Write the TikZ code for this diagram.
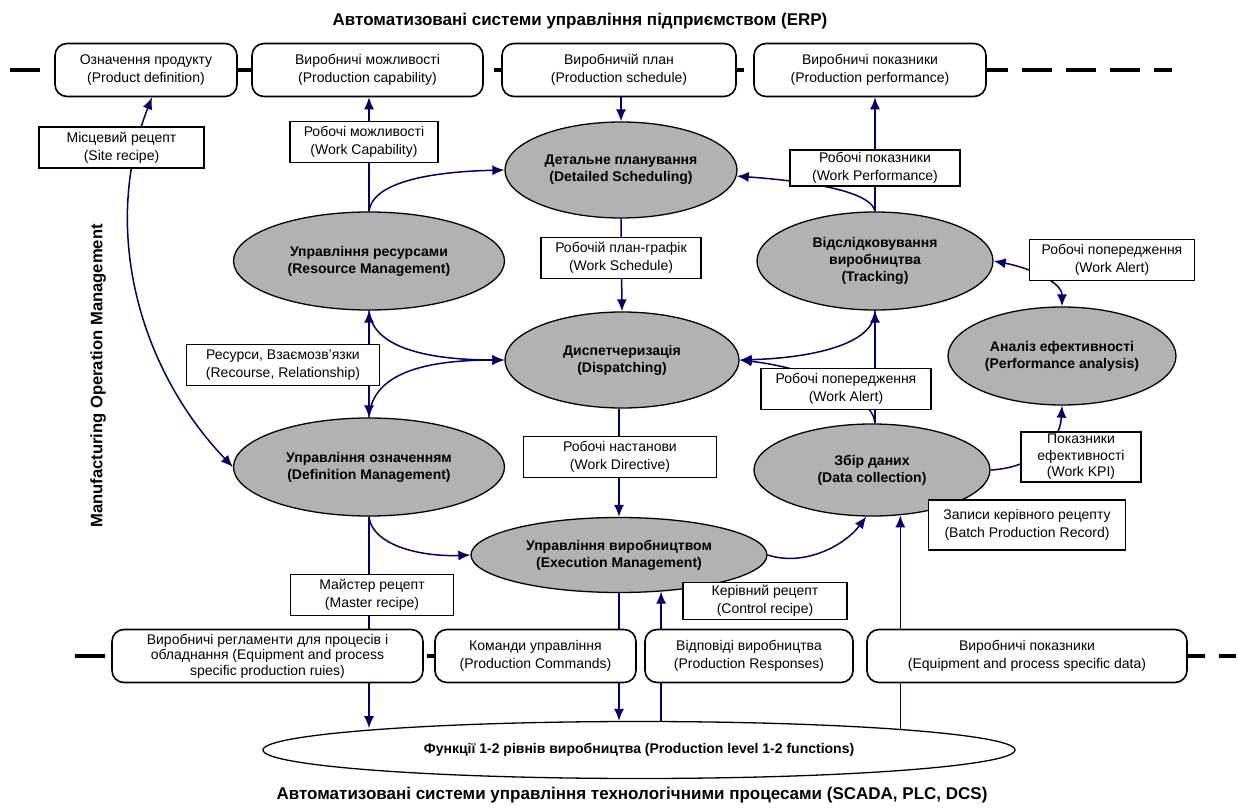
\documentclass[tikz,border=0pt]{standalone}
\usepackage{fontspec}
\setmainfont{Liberation Sans}
\usepackage{xcolor}
\usepackage{tikz}
\usetikzlibrary{arrows.meta,calc,positioning,shapes.geometric,backgrounds}
\definecolor{navyline}{RGB}{0,0,102}
\definecolor{ovalgray}{RGB}{178,178,178}

\begin{document}
\begin{tikzpicture}[x=0.5pt,y=-0.5pt,>={Latex[length=6pt,width=5pt]},
  oval/.style={ellipse,draw,line width=0.65pt,fill=ovalgray,inner sep=0pt,align=center,font={\fontsize{7}{8.5}\selectfont\bfseries}},
  sysbox/.style={draw,rounded corners=6pt,line width=0.8pt,fill=white,minimum height=26.5pt,align=center,font={\fontsize{7}{9}\selectfont}},
  lbl/.style={draw,fill=white,line width=0.7pt,minimum height=20.5pt,inner sep=1pt,align=center,font={\fontsize{7}{9}\selectfont}},
  arr/.style={->,line width=0.75pt,color=navyline},
  levelline/.style={line width=1.6pt,dash pattern=on 15pt off 7pt},
  heading/.style={font={\fontsize{8.5}{10}\selectfont\bfseries}}]
\useasboundingbox (0,0) rectangle (1239,808);
\node[heading] (erp) at (580,21) {Автоматизовані системи управління підприємством (ERP)};
\node[heading] (scada) at (632,795) {Автоматизовані системи управління технологічними процесами (SCADA, PLC, DCS)};
\node[heading,font={\fontsize{8.3}{10}\selectfont\bfseries},rotate=90] (mom) at (98,376) {Manufacturing Operation Management};
\coordinate (erpl) at (10,70);
\coordinate (erpr) at (1172,70);
\coordinate (scadal) at (75,656);
\coordinate (scadar) at (1236,656);

\node[sysbox,minimum width=91pt] (pdef) at (146,70) {Означення продукту\\(Product definition)};
\node[sysbox,minimum width=115.5pt] (pcap) at (367.5,70) {Виробничі можливості\\(Production capability)};
\node[sysbox,minimum width=117pt] (psched) at (619,70) {Виробничій план\\(Production schedule)};
\node[sysbox,minimum width=116pt] (pperf) at (870,70) {Виробничі показники\\(Production performance)};
\node[sysbox,minimum width=155.5pt,inner sep=1pt,font={\fontsize{7}{7.8}\selectfont}] (rules) at (267.5,656) {Виробничі регламенти для процесів і\\обладнання (Equipment and process\\specific production ruies)};
\node[sysbox,minimum width=100.5pt] (cmds) at (535.5,656) {Команди управління\\(Production Commands)};
\node[sysbox,minimum width=104pt] (resp) at (749,656) {Відповіді виробництва\\(Production Responses)};
\node[sysbox,minimum width=160pt] (eqdata) at (1027,656) {Виробничі показники\\(Equipment and process specific data)};

\node[oval,minimum width=116pt,minimum height=48pt] (sched) at (621,170) {Детальне планування\\(Detailed Scheduling)};
\node[oval,minimum width=135.5pt,minimum height=49pt] (res) at (369,261) {Управління ресурсами\\(Resource Management)};
\node[oval,minimum width=118pt,minimum height=49pt] (track) at (875,261) {Відслідковування\\виробництва\\(Tracking)};
\node[oval,minimum width=117pt,minimum height=48pt] (disp) at (622,360) {Диспетчеризація\\(Dispatching)};
\node[oval,minimum width=114pt,minimum height=49pt] (perf) at (1062,356) {Аналіз ефективності\\(Performance analysis)};
\node[oval,minimum width=135.5pt,minimum height=49pt] (defm) at (369,467) {Управління означенням\\(Definition Management)};
\node[oval,minimum width=118pt,minimum height=46pt] (data) at (872,470) {Збір даних\\(Data collection)};
\node[oval,minimum width=148pt,minimum height=37.5pt] (exec) at (619,555) {Управління виробництвом\\(Execution Management)};
\node[oval,fill=white,minimum width=376pt,minimum height=28.5pt] (func) at (639,750) {Функції 1-2 рівнів виробництва (Production level 1-2 functions)};

\node[lbl,minimum width=82.5pt] (site) at (121.5,147.5) {Місцевий рецепт\\(Site recipe)};
\node[lbl,minimum width=74pt] (wcap) at (364,142) {Робочі можливості\\(Work Capability)};
\node[lbl,minimum width=85pt,minimum height=18pt] (wperf) at (875,168) {Робочі показники\\(Work Performance)};
\node[lbl,minimum width=80pt] (wsched) at (621,258) {Робочій план-графік\\(Work Schedule)};
\node[lbl,minimum width=82.5pt] (walerta) at (1112,260) {Робочі попередження\\(Work Alert)};
\node[lbl,minimum width=96.5pt] (rel) at (283,365) {Ресурси, Взаємозв’язки\\(Recourse, Relationship)};
\node[lbl,minimum width=85pt] (walertb) at (846,389) {Робочі попередження\\(Work Alert)};
\node[lbl,minimum width=96.5pt] (wdir) at (620,457) {Робочі настанови\\(Work Directive)};
\node[lbl,minimum width=60pt,minimum height=24.5pt,font={\fontsize{7}{8.3}\selectfont}] (kpi) at (1081,457) {Показники\\ефективності\\(Work KPI)};
\node[lbl,minimum width=98.5pt,minimum height=25pt] (batch) at (1027,525) {Записи керівного рецепту\\(Batch Production Record)};
\node[lbl,minimum width=81.5pt] (master) at (372,595) {Майстер рецепт\\(Master recipe)};
\node[lbl,minimum width=82pt,minimum height=18.5pt] (ctrl) at (765,601) {Керівний рецепт\\(Control recipe)};

\begin{scope}[on background layer]
\draw[levelline] (erpl) -- (erpr);
\draw[levelline] (scadal) -- (scadar);
\draw[arr,<->] ([xshift=3pt]pdef.south) .. controls (100,230) and (140,370) .. (defm.west);
\draw[arr] (res.north) -- (res.north |- pcap.south);
\draw[arr] (res.north) .. controls (372,185) and (420,172) .. (sched.west);
\draw[arr] (sched.north |- psched.south) -- (sched.north);
\draw[arr] (sched.south) -- (disp.north);
\draw[arr] (track.north) -- (track.north |- pperf.south);
\draw[arr] (track.north) .. controls (872,195) and (830,183) .. (sched.-3);
\draw[arr,<->] (res.south) -- (defm.north);
\draw[arr] (res.south) .. controls (372,345) and (420,360) .. (disp.west);
\draw[arr] (defm.north) .. controls (372,375) and (420,360) .. (disp.west);
\draw[arr] (track.south |- data.north) -- (track.south);
\draw[arr] (track.south) .. controls (875,345) and (810,358) .. (disp.east);
\draw[arr] (track.south |- data.north) .. controls (873,395) and (810,368) .. (disp.east);
\draw[arr,<->] (track.east) .. controls (1030,268) and (1062,282) .. (perf.north);
\draw[arr] (data.east) .. controls (1030,468) and (1060,445) .. (perf.south);
\draw[arr] (exec.north |- disp.south) -- (exec.north);
\draw[arr] (defm.south) -- (defm.south |- func.175.5);
\draw[arr] (defm.south) .. controls (372,545) and (420,557) .. (exec.west);
\draw[arr] (exec.south) -- (exec.south |- func.north);
\draw[arr] (exec.-41 |- func.north) -- (exec.-41);
\draw[arr] (func.4.7 -| data.-58) -- (data.-58);
\draw[arr] (exec.east) .. controls (805,567) and (845,545) .. (data.-97);
\end{scope}
\end{tikzpicture}
\end{document}
